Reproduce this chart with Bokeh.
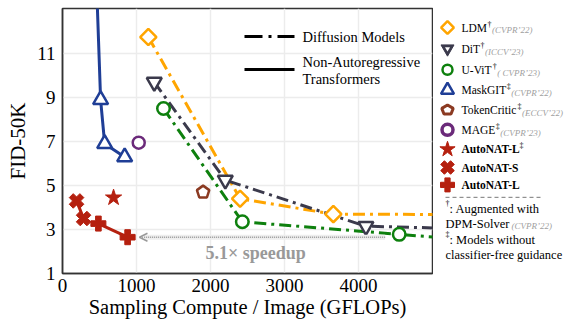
import numpy as np
from bokeh.plotting import figure
from bokeh.layouts import row
from bokeh.models import Range1d, FixedTicker, Arrow, OpenHead
from bokeh.core.properties import value
from bokeh.embed import file_html
from bokeh.resources import INLINE

FONT = "'Liberation Serif', serif"

# ---------------- data (GFLOPs, FID-50K) ----------------
ldm_x = [1160, 2400, 3660, 7000]
ldm_y = [11.75, 4.4, 3.7, 3.66]
dit_x = [1240, 2200, 4100, 6500]
dit_y = [9.7, 5.25, 3.15, 2.95]
uvit_x = [1365, 2430, 4550, 6000]
uvit_y = [8.5, 3.35, 2.78, 2.4]
maskgit_x = [420, 515, 570, 840]
maskgit_y = [18.0, 8.9, 6.9, 6.3]
tokencritic_x = [1900]
tokencritic_y = [4.7]
mage_x = [1030]
mage_y = [6.95]
autonat_lg_x = [690]
autonat_lg_y = [4.45]
autonat_s_x = [190, 285]
autonat_s_y = [4.3, 3.5]
autonat_l_x = [485, 880]
autonat_l_y = [3.27, 2.65]

x_ticks = [0, 1000, 2000, 3000, 4000]
y_ticks = [1, 3, 5, 7, 9, 11]

C_LDM = "#FFA500"
C_DIT = "#3B3A4C"
C_UVIT = "#0E800E"
C_MASK = "#1F3E96"
C_TC = "#8B3A22"
C_MAGE = "#6B2A7A"
C_AN = "#B5200F"

names = ["LDM", "DiT", "U-ViT", "MaskGIT", "TokenCritic", "MAGE", "AutoNAT-L", "AutoNAT-S", "AutoNAT-L"]
sups = ["†", "†", "†", "‡", "‡", "‡", "‡", "", ""]
venues = ["(CVPR’22)", "(ICCV’23)", "( CVPR’23)", "(CVPR’22)", "(ECCV’22)", "(CVPR’23)", "", "", ""]
bolds = [False] * 6 + [True] * 3

# ---------------- main figure ----------------
X0, X1, Y0, Y1 = 0, 5000, 1, 13.05
FW, FH = 370, 265
BL, BT, BR, BB = 62, 8, 1, 47
FL, FB = BL, BT + FH  # frame left / bottom in page pixels

p = figure(width=BL + FW + BR, height=BT + FH + BB, x_range=Range1d(X0, X1), y_range=Range1d(Y0, Y1),
           output_backend="svg", toolbar_location=None,
           min_border_left=BL, min_border_top=BT, min_border_right=BR, min_border_bottom=BB)
p.outline_line_color = "#333333"
p.outline_line_width = 1.5
p.background_fill_color = "white"
p.border_fill_color = "white"

for ax in (p.xaxis, p.yaxis):
    ax.axis_line_color = "#333333"
    ax.axis_line_width = 1.5
    ax.major_tick_out = 0
    ax.major_tick_in = 0
    ax.minor_tick_line_color = None
    ax.major_label_text_font = FONT
    ax.major_label_text_font_size = "19px"
    ax.major_label_text_color = "black"
    ax.axis_label_text_font = FONT
    ax.axis_label_text_font_style = "normal"
    ax.axis_label_text_color = "black"
p.xaxis.ticker = FixedTicker(ticks=x_ticks)
p.yaxis.ticker = FixedTicker(ticks=y_ticks)
p.xaxis.axis_label = "Sampling Compute / Image (GFLOPs)"
p.yaxis.axis_label = "FID-50K"
p.xaxis.axis_label_text_font_size = "20.5px"
p.yaxis.axis_label_text_font_size = "21px"
p.xaxis.major_label_standoff = 5
p.yaxis.major_label_standoff = 7
p.xaxis.axis_label_standoff = 1
p.yaxis.axis_label_standoff = 4
p.grid.grid_line_color = "#ececec"
p.grid.grid_line_width = 1.5

sx = FW / (X1 - X0)
sy = FH / (Y1 - Y0)


def dx(px):
    return X0 + (px - FL) / sx


def dy(py):
    return Y0 + (FB - py) / sy


DASH = "12 5 3 5"
LW = 3

# diffusion models
p.line(ldm_x, ldm_y, line_color=C_LDM, line_width=LW, line_dash=DASH)
p.line(dit_x, dit_y, line_color=C_DIT, line_width=LW, line_dash=DASH)
p.line(uvit_x, uvit_y, line_color=C_UVIT, line_width=LW, line_dash=DASH)
p.scatter(ldm_x, ldm_y, marker="square", angle=np.pi / 4, size=11.5, fill_color="white",
          line_color=C_LDM, line_width=2.5)
p.scatter(dit_x, dit_y, marker="inverted_triangle", size=15, fill_color="white",
          line_color=C_DIT, line_width=2.5)
p.scatter(uvit_x, uvit_y, marker="circle", size=12.5, fill_color="white",
          line_color=C_UVIT, line_width=2.5)

# non-autoregressive transformers
p.line(maskgit_x, maskgit_y, line_color=C_MASK, line_width=LW)
p.scatter(maskgit_x, maskgit_y, marker="triangle", size=15, fill_color="white",
          line_color=C_MASK, line_width=2.5)
p.scatter(mage_x, mage_y, marker="circle", size=12, fill_color="white",
          line_color=C_MAGE, line_width=2.5)

# TokenCritic pentagon
ang = np.pi / 2 + np.arange(5) * 2 * np.pi / 5
r_pent = 6.5
p.patches([list(x + r_pent * np.cos(ang) / sx) for x in tokencritic_x],
          [list(y + r_pent * np.sin(ang) / sy) for y in tokencritic_y],
          fill_color="white", line_color=C_TC, line_width=2.5)

# AutoNAT
p.line(autonat_s_x, autonat_s_y, line_color=C_AN, line_width=LW)
p.line(autonat_l_x, autonat_l_y, line_color=C_AN, line_width=LW)
p.scatter(autonat_s_x, autonat_s_y, marker="plus", angle=np.pi / 4, size=15, fill_color=C_AN, line_color=C_AN)
p.scatter(autonat_l_x, autonat_l_y, marker="plus", size=15, fill_color=C_AN, line_color=C_AN)
p.scatter(autonat_lg_x, autonat_lg_y, marker="star", size=17, fill_color=C_AN, line_color=C_AN)

# speedup arrow
ax_start = uvit_x[2] - 190
ax_end = autonat_l_x[1] + 160
p.line([ax_end + 60, ax_start], [autonat_l_y[1]] * 2, line_color="#eeeeee", line_width=5)
p.add_layout(Arrow(end=OpenHead(size=8, line_color="#999999", line_width=1.5),
                   x_start=ax_start, y_start=autonat_l_y[1], x_end=ax_end, y_end=autonat_l_y[1],
                   line_color="#999999", line_width=1.5, line_dash="1 1"))
p.text([dx(205)], [dy(252)], text=["5.1× speedup"], text_font=value(FONT), text_font_size="18px",
       text_font_style="bold", text_color="#999999", text_baseline="middle", text_align="left")

# inner legend
p.line([dx(244), dx(294)], [dy(36)] * 2, line_color="black", line_width=3, line_dash="18 6 3 6")
p.line([dx(244), dx(294)], [dy(69)] * 2, line_color="black", line_width=3)
p.text([dx(302)] * 3, [dy(36), dy(61), dy(78)],
       text=["Diffusion Models", "Non-Autoregressive", "Transformers"],
       text_font=value(FONT), text_font_size="14.5px", text_color="black",
       text_baseline="middle", text_align="left")

# ---------------- right legend panel ----------------
REG = {' ': 250, '(': 333, ')': 333, "'": 180, '’': 333, '-': 333, ':': 278, '†': 500, '‡': 500,
       'A': 722, 'C': 667, 'D': 722, 'E': 611, 'G': 722, 'I': 333, 'K': 722, 'L': 611, 'M': 889,
       'N': 722, 'O': 722, 'P': 556, 'R': 667, 'S': 556, 'T': 611, 'U': 722, 'V': 722,
       'a': 444, 'c': 444, 'd': 500, 'e': 444, 'f': 333, 'g': 500, 'h': 500, 'i': 278, 'k': 500,
       'l': 278, 'm': 778, 'n': 500, 'o': 500, 'p': 500, 'r': 333, 's': 389, 't': 278, 'u': 500,
       'v': 500, 'w': 722, 'x': 500, 'y': 500}
BOLD = dict(REG)
BOLD.update({'T': 667, 'L': 667, 'u': 556, 't': 333})


def tw(s, size, bold=False):
    tab = BOLD if bold else REG
    return sum(tab.get(c, 500) for c in s) / 1000.0 * size


OX = BL + FW + BR
LWD, LHT = 564 - OX, BT + FH + BB
lf = figure(width=LWD, height=LHT, x_range=Range1d(0, LWD), y_range=Range1d(LHT, 0),
            output_backend="svg", toolbar_location=None,
            min_border_left=0, min_border_right=0, min_border_top=0, min_border_bottom=0)
lf.axis.visible = False
lf.grid.visible = False
lf.outline_line_color = None

rows_y = [23, 48.5, 74, 98.5, 122.5, 146.5, 170, 192, 213]
mk_x = 447 - OX
tx_x = 461 - OX
NS = 11.5

lf.scatter([mk_x], [rows_y[0]], marker="square", angle=np.pi / 4, size=9, fill_color="white",
           line_color=C_LDM, line_width=2.5)
lf.scatter([mk_x], [rows_y[1]], marker="inverted_triangle", size=13, fill_color=C_DIT,
           line_color=C_DIT, line_width=1)
lf.scatter([mk_x], [rows_y[1]], marker="inverted_triangle", size=5, fill_color="white",
           line_color="white", line_width=0)
lf.scatter([mk_x], [rows_y[2]], marker="circle", size=10, fill_color="white",
           line_color=C_UVIT, line_width=2.5)
lf.scatter([mk_x], [rows_y[3]], marker="triangle", size=13, fill_color="white",
           line_color=C_MASK, line_width=2.5)
lf.patches([list(mk_x + 6 * np.cos(ang))], [list(rows_y[4] - 6 * np.sin(ang))],
           fill_color="white", line_color=C_TC, line_width=3)
lf.scatter([mk_x], [rows_y[5]], marker="circle", size=11, fill_color="white",
           line_color=C_MAGE, line_width=3.5)
lf.scatter([mk_x], [rows_y[6]], marker="star", size=16, fill_color=C_AN, line_color=C_AN)
lf.scatter([mk_x], [rows_y[7]], marker="plus", angle=np.pi / 4, size=14, fill_color=C_AN, line_color=C_AN)
lf.scatter([mk_x], [rows_y[8]], marker="plus", size=14, fill_color=C_AN, line_color=C_AN)

for i, nm in enumerate(names):
    y = rows_y[i]
    b = bolds[i]
    lf.text([tx_x], [y], text=[nm], text_font=value(FONT), text_font_size=f"{NS}px",
            text_font_style="bold" if b else "normal", text_color="black",
            text_baseline="middle", text_align="left")
    xe = tx_x + tw(nm, NS, b) - (2.5 if b else 0)
    if sups[i]:
        lf.text([xe + 0.5], [y - 4], text=[sups[i]], text_font=value(FONT), text_font_size="8px",
                text_color="black", text_baseline="middle", text_align="left")
        xe += 4.5
    if venues[i]:
        lf.text([xe + 0.5], [y + 3.5], text=[venues[i]], text_font=value(FONT), text_font_size="9px",
                text_font_style="italic", text_color="#a0a0a0", text_baseline="middle", text_align="left")

# separator and footnotes
lf.line([445 - OX, 543 - OX], [228] * 2, line_color="#777777", line_width=1, line_dash="4 3")
FX = 445 - OX
FS = 12.5
lf.text([FX], [236], text=["†"], text_font=value(FONT), text_font_size="8px",
        text_color="black", text_baseline="middle", text_align="left")
lf.text([FX + 4], [242], text=[": Augmented with"], text_font=value(FONT), text_font_size=f"{FS}px",
        text_color="black", text_baseline="middle", text_align="left")
lf.text([FX], [260], text=["DPM-Solver"], text_font=value(FONT), text_font_size=f"{FS}px",
        text_color="black", text_baseline="middle", text_align="left")
lf.text([FX + tw("DPM-Solver", FS) + 2], [263], text=["(CVPR’22)"], text_font=value(FONT),
        text_font_size="9px", text_font_style="italic", text_color="#a0a0a0",
        text_baseline="middle", text_align="left")
lf.text([FX], [273], text=["‡"], text_font=value(FONT), text_font_size="8px",
        text_color="black", text_baseline="middle", text_align="left")
lf.text([FX + 4], [279], text=[": Models without"], text_font=value(FONT), text_font_size=f"{FS}px",
        text_color="black", text_baseline="middle", text_align="left")
lf.text([FX], [298], text=["classifier-free guidance"], text_font=value(FONT), text_font_size=f"{FS}px",
        text_color="black", text_baseline="middle", text_align="left")

layout = row(p, lf)
open("out.html", "w").write(file_html(layout, INLINE))
